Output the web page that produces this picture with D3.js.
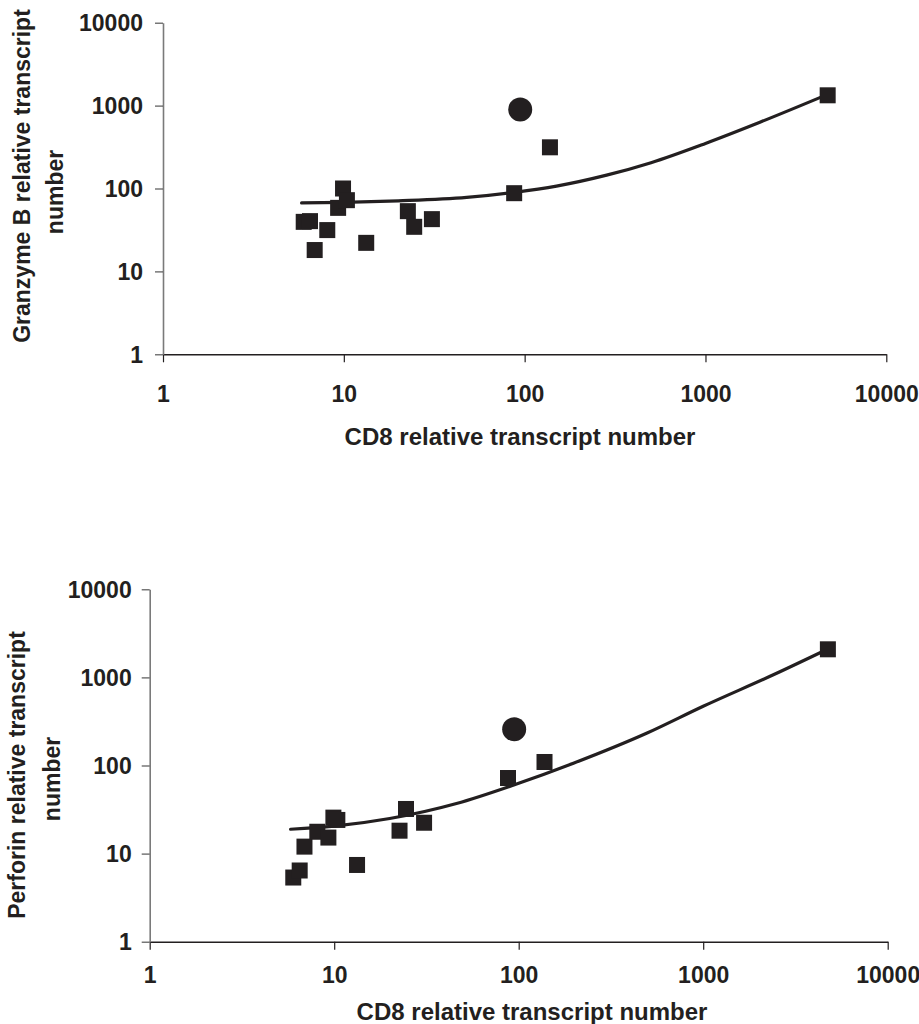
<!DOCTYPE html>
<html>
<head>
<meta charset="utf-8">
<script src="https://cdn.jsdelivr.net/npm/d3@7"></script>
<style>
  html, body { margin: 0; padding: 0; background: #fff; }
  svg { display: block; }
  text { font-family: "Liberation Sans", Arial, Helvetica, sans-serif; font-weight: bold; fill: #231f20; }
</style>
</head>
<body>
<svg id="chart" width="919" height="1024"></svg>
<script>
// ---- Data ----
const cd8 = [6.0, 6.5, 6.9, 8.1, 9.3, 9.9, 10.4, 13.3, 22.6, 24.5, 30.7, 87.5, 138, 4740];
const granzymeB = [39.6, 40.4, 18.1, 31.5, 58.4, 100, 72.3, 22.1, 53.3, 34.5, 42.7, 87.8, 314, 1331];
const perforin = [5.35, 6.43, 12.0, 17.7, 15.2, 25.6, 24.1, 7.43, 18.2, 32.1, 22.4, 72.1, 109.6, 2084];

const outlierCd8 = [94.5];
const outlierGranzymeB = [895];
const outlierPerforin = [258];

const trendGzbX = [5.84, 10, 20, 47.8, 88, 150, 284, 500, 1000, 2000, 4748];
const trendGzbY = [67, 68, 71, 78, 90, 107, 145, 205, 350, 630, 1368];
const trendPrfX = [5.8, 10, 20, 46, 94, 198, 500, 1000, 2400, 4740];
const trendPrfY = [18.9, 20.5, 25, 37, 60, 106, 235, 470, 1070, 2100];

const tickValues = [1, 10, 100, 1000, 10000];
const tickLabels = ["1", "10", "100", "1000", "10000"];

const xTitle = "CD8 relative transcript number";

const ink = "#231f20";
const svg = d3.select("#chart");

function panel(cfg) {
  const x = d3.scaleLog().domain([1, 10000]).range([cfg.left, cfg.right]);
  const y = d3.scaleLog().domain([1, 10000]).range([cfg.bottom, cfg.top]);
  const g = svg.append("g");

  // trend line
  const pts = cfg.trendX.map((v, i) => [v, cfg.trendY[i]]);
  g.append("path")
    .datum(pts)
    .attr("fill", "none")
    .attr("stroke", ink)
    .attr("stroke-width", 3.2)
    .attr("stroke-linecap", "round")
    .attr("d", d3.line().x(d => x(d[0])).y(d => y(d[1])).curve(d3.curveMonotoneX));

  // squares
  const s = 16;
  g.selectAll("rect.pt")
    .data(cd8.map((v, i) => [v, cfg.values[i]]))
    .join("rect")
    .attr("class", "pt")
    .attr("x", d => x(d[0]) - s / 2)
    .attr("y", d => y(d[1]) - s / 2)
    .attr("width", s)
    .attr("height", s)
    .attr("fill", ink);

  // outlier circle
  g.selectAll("circle.out")
    .data(outlierCd8.map((v, i) => [v, cfg.outlier[i]]))
    .join("circle")
    .attr("class", "out")
    .attr("cx", d => x(d[0]))
    .attr("cy", d => y(d[1]))
    .attr("r", 12)
    .attr("fill", ink);

  // x axis
  const xa = g.append("g")
    .attr("transform", `translate(0,${cfg.bottom})`)
    .call(d3.axisBottom(x).tickValues(tickValues).tickFormat((d, i) => tickLabels[i]).tickSize(8).tickSizeOuter(0));
  xa.attr("font-family", null);
  xa.select(".domain").attr("stroke", ink).attr("stroke-width", 1.4);
  xa.selectAll(".tick line").attr("stroke", ink).attr("stroke-width", 1.2);
  xa.selectAll(".tick text")
    .attr("dy", null)
    .attr("y", cfg.xTickBaseline)
    .attr("font-size", 23)
    .style("fill", ink);

  // y axis
  const ya = g.append("g")
    .attr("transform", `translate(${cfg.left},0)`)
    .call(d3.axisLeft(y).tickValues(tickValues).tickFormat((d, i) => tickLabels[i]).tickSize(8).tickPadding(cfg.yPad).tickSizeOuter(0));
  ya.attr("font-family", null);
  ya.select(".domain").attr("stroke", "#7a7a7a").attr("stroke-width", 1.6);
  ya.selectAll(".tick line").attr("stroke", "#555").attr("stroke-width", 1.2);
  ya.selectAll(".tick text")
    .attr("dy", "0.36em")
    .attr("font-size", 23)
    .style("fill", ink);

  // x title
  g.append("text")
    .attr("x", cfg.xTitleX)
    .attr("y", cfg.xTitleY)
    .attr("text-anchor", "middle")
    .attr("font-size", 24)
    .text(xTitle);

  // y title (two lines)
  cfg.yTitle.forEach(t => {
    g.append("text")
      .attr("transform", `translate(${t.x},${t.y}) rotate(-90)`)
      .attr("text-anchor", "middle")
      .attr("font-size", 23)
      .text(t.text);
  });
}

panel({
  left: 163, right: 886.3, top: 22.7, bottom: 354.3,
  values: granzymeB, outlier: outlierGranzymeB,
  trendX: trendGzbX, trendY: trendGzbY,
  xTickBaseline: 48, yPad: 12,
  xTitleX: 520, xTitleY: 445,
  yTitle: [
    { text: "Granzyme B relative transcript", x: 30, y: 176 },
    { text: "number", x: 63, y: 192 }
  ]
});

panel({
  left: 149.7, right: 887.7, top: 589.3, bottom: 941.7,
  values: perforin, outlier: outlierPerforin,
  trendX: trendPrfX, trendY: trendPrfY,
  xTickBaseline: 41, yPad: 10,
  xTitleX: 532, xTitleY: 1020,
  yTitle: [
    { text: "Perforin relative transcript", x: 25, y: 775 },
    { text: "number", x: 60, y: 779 }
  ]
});
</script>
</body>
</html>
